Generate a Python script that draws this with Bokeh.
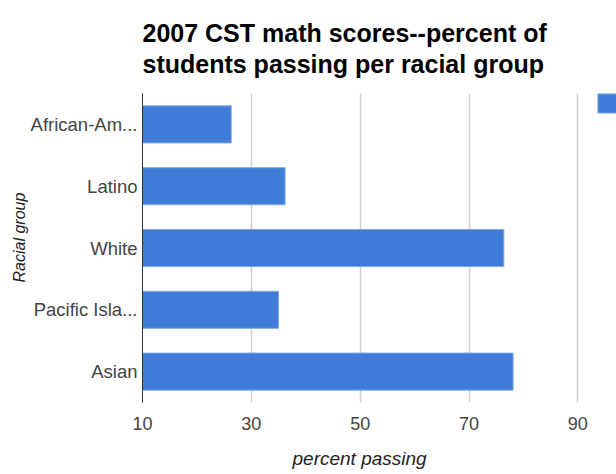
from bokeh.plotting import figure
from bokeh.models import (ColumnDataSource, FactorRange, Range1d, FixedTicker,
                          Title, Legend, LegendItem)
from bokeh.embed import file_html
from bokeh.resources import INLINE

# ---- data ----
categories = ["African-Am...", "Latino", "White", "Pacific Isla...", "Asian"]
percent_passing = [26.3, 36.2, 76.4, 35.0, 78.1]
x_ticks = [10, 30, 50, 70, 90]
title_text = "2007 CST math scores--percent of\nstudents passing per racial group"
x_title = "percent passing"
y_title = "Racial group"

FONT = "Liberation Sans"
BAR = "#3e7cd7"

source = ColumnDataSource(dict(group=categories, value=percent_passing))

p = figure(width=616, height=474, output_backend="svg", toolbar_location=None,
           y_range=FactorRange(factors=list(reversed(categories))),
           x_range=Range1d(10, 97.1),
           min_border_left=142, min_border_right=0,
           min_border_top=93, min_border_bottom=72)
p.outline_line_color = None
p.background_fill_color = "white"
p.border_fill_color = "white"

r = p.hbar(y="group", right="value", left=10, height=0.6, source=source,
           fill_color=BAR, line_color="#80a9ea", line_width=1)

# title (two lines)
p.add_layout(Title(text=title_text, align="left", text_font=FONT,
                   text_font_size="25px", text_font_style="bold",
                   text_line_height=1.12, vertical_align="top",
                   text_color="#000000", standoff=28), "above")

# x axis
p.xaxis.ticker = FixedTicker(ticks=x_ticks)
p.xaxis.axis_line_color = None
p.xaxis.major_tick_line_color = None
p.xaxis.minor_tick_line_color = None
p.xaxis.major_tick_out = 0
p.xaxis.major_tick_in = 0
p.xaxis.major_label_standoff = 14
p.xaxis.major_label_text_font = FONT
p.xaxis.major_label_text_font_size = "18px"
p.xaxis.major_label_text_color = "#444444"
p.add_layout(Title(text=x_title, align="left", offset=150, text_font=FONT,
                   text_font_size="19px", text_font_style="italic",
                   text_color="#222222", standoff=0,
                   padding=(0, 0, 13, 0)), "below")

# y axis
p.yaxis.axis_line_color = "#333333"
p.yaxis.axis_line_width = 1
p.yaxis.major_tick_line_color = None
p.yaxis.minor_tick_line_color = None
p.yaxis.major_tick_out = 0
p.yaxis.major_tick_in = 0
p.yaxis.major_label_standoff = 5
p.yaxis.major_label_text_font = FONT
p.yaxis.major_label_text_font_size = "18.5px"
p.yaxis.major_label_text_color = "#444444"
p.add_layout(Title(text=y_title, align="left", offset=120, text_font=FONT,
                   text_font_size="16px", text_font_style="italic",
                   text_color="#222222", standoff=0), "left")

# grid
p.ygrid.grid_line_color = None
p.xgrid.ticker = FixedTicker(ticks=x_ticks)
p.xgrid.grid_line_color = "#d0d0d0"
p.xgrid.grid_line_width = 1.5

# legend swatch (its label is cut off at the right edge)
legend = Legend(items=[LegendItem(label=" ", renderers=[r])],
                location=(453, 287), padding=0, margin=0, spacing=0,
                glyph_width=24, glyph_height=24, label_standoff=0,
                label_width=0, label_height=24, label_text_font_size="1px",
                border_line_color=None, background_fill_alpha=0)
p.add_layout(legend)

open("out.html", "w").write(file_html(p, INLINE))
